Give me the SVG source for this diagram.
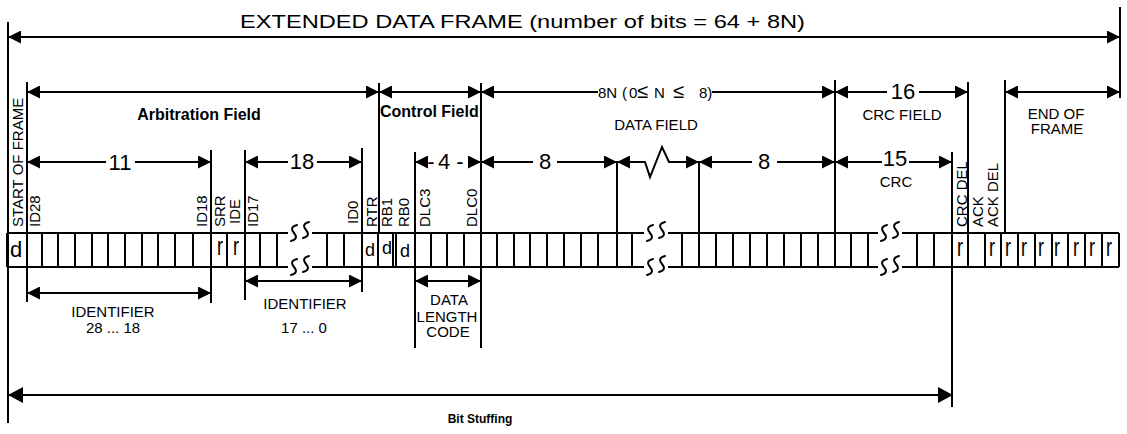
<svg xmlns="http://www.w3.org/2000/svg" width="1127" height="434" viewBox="0 0 1127 434">
<style>
text{font-family:"Liberation Sans",Arial,Helvetica,sans-serif;fill:#000}
.ln{stroke:#000;stroke-width:2;fill:none}
.vl{font-size:15px}
.lb{font-size:15px;text-anchor:middle}
.num{font-size:22px;text-anchor:middle}
.bd{font-weight:bold}
.bit{font-size:18px;text-anchor:middle}
.sq{stroke:#000;stroke-width:2;fill:none;stroke-linecap:round}
</style>
<defs>
<marker id="ah" viewBox="0 0 13 13" refX="13" refY="6.5" markerWidth="13" markerHeight="13" markerUnits="userSpaceOnUse" orient="auto-start-reverse"><path d="M0,0L13,6.5L0,13z"/></marker>
<marker id="ahL" viewBox="0 0 15 16" refX="15" refY="8" markerWidth="15" markerHeight="16" markerUnits="userSpaceOnUse" orient="auto-start-reverse"><path d="M0,0L15,8L0,16z"/></marker>
</defs>
<rect width="1127" height="434" fill="#fff"/>

<g id="title">
<text x="240" y="28" font-size="19" textLength="565" lengthAdjust="spacingAndGlyphs">EXTENDED DATA FRAME (number of bits = 64 + 8N)</text>
</g>

<g id="connectors">
<path class="ln" d="M8,22V423M1120,7V98M27,82V302M211,150V303M245,150V300M362,148V292M379,83V233M415,152V348M481,83V348M617,162V233M699,162V233M835,80V233M952,152V407M968,82V233M1005,80V233"/>
<line class="ln" x1="8" y1="37" x2="1120" y2="37" marker-start="url(#ah)" marker-end="url(#ah)"/>
<line class="ln" x1="27" y1="92" x2="379" y2="92" marker-start="url(#ah)" marker-end="url(#ah)"/>
<line class="ln" x1="379" y1="92" x2="481" y2="92" marker-start="url(#ah)" marker-end="url(#ah)"/>
<line class="ln" x1="481" y1="92" x2="598" y2="92" marker-start="url(#ah)"/>
<line class="ln" x1="712" y1="92" x2="835" y2="92" marker-end="url(#ah)"/>
<line class="ln" x1="835" y1="92" x2="887" y2="92" marker-start="url(#ah)"/>
<line class="ln" x1="919" y1="92" x2="968" y2="92" marker-end="url(#ah)"/>
<line class="ln" x1="1005" y1="92" x2="1120" y2="92" marker-start="url(#ah)" marker-end="url(#ah)"/>
<line class="ln" x1="27" y1="162" x2="106" y2="162" marker-start="url(#ah)"/>
<line class="ln" x1="135" y1="162" x2="211" y2="162" marker-end="url(#ah)"/>
<line class="ln" x1="245" y1="162" x2="288" y2="162" marker-start="url(#ah)"/>
<line class="ln" x1="317" y1="162" x2="362" y2="162" marker-end="url(#ah)"/>
<line class="ln" x1="415" y1="162" x2="428" y2="162" marker-start="url(#ah)"/>
<line class="ln" x1="468" y1="162" x2="481" y2="162" marker-end="url(#ah)"/>
<line class="ln" x1="481" y1="162" x2="533" y2="162" marker-start="url(#ah)"/>
<line class="ln" x1="557" y1="162" x2="617" y2="162" marker-end="url(#ah)"/>
<path class="ln" d="M617,162L645,162L650,177L662,147L669,162L699,162" marker-start="url(#ah)" marker-end="url(#ah)"/>
<line class="ln" x1="699" y1="162" x2="752" y2="162" marker-start="url(#ah)"/>
<line class="ln" x1="777" y1="162" x2="835" y2="162" marker-end="url(#ah)"/>
<line class="ln" x1="835" y1="162" x2="882" y2="162" marker-start="url(#ah)"/>
<line class="ln" x1="909" y1="162" x2="952" y2="162" marker-end="url(#ah)"/>
<line class="ln" x1="27" y1="293" x2="211" y2="293" marker-start="url(#ah)" marker-end="url(#ah)"/>
<line class="ln" x1="245" y1="281" x2="362" y2="281" marker-start="url(#ah)" marker-end="url(#ah)"/>
<line class="ln" x1="415" y1="281" x2="481" y2="281" marker-start="url(#ah)" marker-end="url(#ah)"/>
<line class="ln" x1="8" y1="395" x2="953" y2="395" marker-start="url(#ahL)" marker-end="url(#ahL)"/>
</g>

<g id="arbitration-field">
<text class="bd" x="199" y="120" font-size="16" text-anchor="middle">Arbitration Field</text>
<text class="num" x="120" y="170">11</text>
<text class="num" x="302" y="169">18</text>
</g>
<g id="control-field">
<text class="bd" x="380" y="117" font-size="16">Control Field</text>
<text class="num" x="431" y="169" font-size="20">-</text>
<text class="num" x="444" y="169">4</text>
<text class="num" x="460" y="169" font-size="20">-</text>
</g>
<g id="data-field">
<text font-size="15" y="98"><tspan x="598">8N</tspan><tspan x="622">(</tspan><tspan x="629">0</tspan><tspan x="637" font-size="20">≤</tspan><tspan x="654">N</tspan><tspan x="673" font-size="20">≤</tspan><tspan x="699">8)</tspan></text>
<text class="lb" x="656" y="130">DATA FIELD</text>
<text class="num" x="545" y="169">8</text>
<text class="num" x="764" y="169">8</text>
</g>
<g id="crc-field">
<text class="num" x="903" y="99">16</text>
<text class="lb" x="902" y="120">CRC FIELD</text>
<text class="num" x="895" y="166">15</text>
<text class="lb" x="896" y="187">CRC</text>
</g>
<g id="end-of-frame">
<text class="lb" x="1056" y="119" font-size="14.5">END OF</text>
<text class="lb" x="1057" y="134" font-size="14.5">FRAME</text>
</g>

<g id="bit-labels">
<text class="vl" transform="translate(23,227) rotate(-90)" font-size="15.5">START OF FRAME</text>
<text class="vl" transform="translate(40,227) rotate(-90)">ID28</text>
<text class="vl" transform="translate(207,227) rotate(-90)">ID18</text>
<text class="vl" transform="translate(225,227) rotate(-90)">SRR</text>
<text class="vl" transform="translate(240,224) rotate(-90)">IDE</text>
<text class="vl" transform="translate(258,227) rotate(-90)">ID17</text>
<text class="vl" transform="translate(358,224) rotate(-90)">ID0</text>
<text class="vl" transform="translate(377,227) rotate(-90)">RTR</text>
<text class="vl" transform="translate(392,227) rotate(-90)">RB1</text>
<text class="vl" transform="translate(409,227) rotate(-90)">RB0</text>
<text class="vl" transform="translate(430,227) rotate(-90)">DLC3</text>
<text class="vl" transform="translate(477,227) rotate(-90)">DLC0</text>
<text class="vl" transform="translate(967,227) rotate(-90)">CRC DEL</text>
<text class="vl" transform="translate(983,227) rotate(-90)">ACK</text>
<text class="vl" transform="translate(998,227) rotate(-90)">ACK DEL</text>
</g>

<g id="bit-row">
<path class="ln" d="M7,233H288M312,233H644M668,233H878M902,233H1119M7,267H288M312,267H644M668,267H878M902,267H1119"/>
<path class="ln" d="M7,233V267M27,233V267M42,233V267M58,233V267M75,233V267M92,233V267M108,233V267M125,233V267M142,233V267M158,233V267M175,233V267M193,233V267M211,233V267M227,233V267M245,233V267M260,233V267M277,233V267M327,233V267M344,233V267M362,233V267M378,233V267M393,233V267M396,233V267M415,233V267M431,233V267M447,233V267M464,233V267M481,233V267M497,233V267M514,233V267M530,233V267M547,233V267M564,233V267M581,233V267M598,233V267M617,233V267M632,233V267M682,233V267M699,233V267M716,233V267M733,233V267M750,233V267M767,233V267M784,233V267M801,233V267M818,233V267M835,233V267M851,233V267M868,233V267M917,233V267M934,233V267M952,233V267M968,233V267M985,233V267M1001,233V267M1018,233V267M1035,233V267M1052,233V267M1068,233V267M1085,233V267M1102,233V267M1119,233V267"/>
<path class="sq" d="M297,225Q289,227 294,233Q299,239 291,241M309,222Q301,224 306,230Q311,236 303,238M297,259Q289,261 294,267Q299,273 291,275M309,256Q301,258 306,264Q311,270 303,272"/>
<path class="sq" d="M653,225Q645,227 650,233Q655,239 647,241M665,222Q657,224 662,230Q667,236 659,238M653,259Q645,261 650,267Q655,273 647,275M665,256Q657,258 662,264Q667,270 659,272"/>
<path class="sq" d="M887,225Q879,227 884,233Q889,239 881,241M899,222Q891,224 896,230Q901,236 893,238M887,259Q879,261 884,267Q889,273 881,275M899,256Q891,258 896,264Q901,270 893,272"/>
<text x="16" y="257" font-size="22" text-anchor="middle">d</text>
<text class="bit" transform="translate(220,255) scale(1,1.4)">r</text>
<text class="bit" transform="translate(236,255) scale(1,1.4)">r</text>
<text class="bit" x="370" y="256">d</text>
<text class="bit" x="387" y="254">d</text>
<text class="bit" x="405" y="257">d</text>
<text class="bit" transform="translate(960,256) scale(1,1.4)">r</text>
<text class="bit" transform="translate(992,256) scale(1,1.4)">r</text>
<text class="bit" transform="translate(1008,256) scale(1,1.4)">r</text>
<text class="bit" transform="translate(1024,256) scale(1,1.4)">r</text>
<text class="bit" transform="translate(1041,256) scale(1,1.4)">r</text>
<text class="bit" transform="translate(1057,256) scale(1,1.4)">r</text>
<text class="bit" transform="translate(1076,256) scale(1,1.4)">r</text>
<text class="bit" transform="translate(1092,256) scale(1,1.4)">r</text>
<text class="bit" transform="translate(1109,256) scale(1,1.4)">r</text>
</g>

<g id="identifier-28-18">
<text class="lb" x="113" y="317">IDENTIFIER</text>
<text class="lb" x="113" y="333">28 ... 18</text>
</g>
<g id="identifier-17-0">
<text class="lb" x="305" y="309">IDENTIFIER</text>
<text class="lb" x="304" y="333">17 ... 0</text>
</g>
<g id="data-length-code">
<text class="lb" x="449" y="305">DATA</text>
<text class="lb" x="447" y="322">LENGTH</text>
<text class="lb" x="448" y="337">CODE</text>
</g>
<g id="bit-stuffing">
<text class="bd" x="480" y="423" font-size="12" text-anchor="middle">Bit Stuffing</text>
</g>
</svg>
